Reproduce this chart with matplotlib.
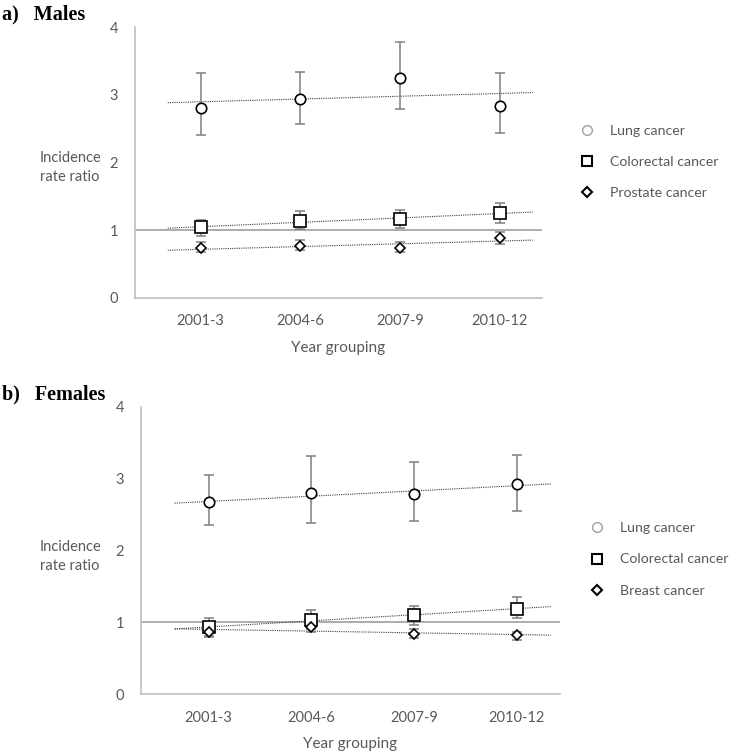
import numpy as np
import matplotlib
matplotlib.use("Agg")
import matplotlib.pyplot as plt
import matplotlib.transforms as mtransforms
from matplotlib.lines import Line2D

# ─── data ─────────────────────────────────────
years = ["2001-3", "2004-6", "2007-9", "2010-12"]

m_lung = [2.81, 2.93, 3.25, 2.84]
m_lung_lo = [2.40, 2.57, 2.79, 2.43]
m_lung_hi = [3.32, 3.33, 3.78, 3.32]
m_crc = [1.04, 1.14, 1.16, 1.25]
m_crc_lo = [0.92, 1.01, 1.03, 1.11]
m_crc_hi = [1.15, 1.28, 1.30, 1.40]
m_pros = [0.73, 0.77, 0.73, 0.88]
m_pros_lo = [0.67, 0.71, 0.68, 0.79]
m_pros_hi = [0.82, 0.85, 0.82, 0.97]

f_lung = [2.67, 2.80, 2.78, 2.92]
f_lung_lo = [2.35, 2.38, 2.41, 2.55]
f_lung_hi = [3.05, 3.31, 3.23, 3.33]
f_crc = [0.93, 1.03, 1.10, 1.19]
f_crc_lo = [0.81, 0.90, 0.96, 1.06]
f_crc_hi = [1.06, 1.17, 1.23, 1.35]
f_breast = [0.87, 0.93, 0.84, 0.82]
f_breast_lo = [0.79, 0.87, 0.78, 0.76]
f_breast_hi = [0.95, 0.98, 0.91, 0.87]

plt.rcParams['font.family'] = ['Lato', 'DejaVu Sans']
GREY_TXT = '#595959'

fig = plt.figure(figsize=(7.33, 7.52), dpi=100)


def panel(ax, series, labels, leg_xy):
    x = np.arange(1, len(years) + 1)
    ax.axhline(1, color='#a6a6a6', lw=1.3, zorder=1)
    xt = np.array([x[0] - 0.33, x[-1] + 0.33])
    for (y, lo, hi), mk, ms in zip(series, ['o', 's', 'D'], [7.5, 8, 5.5]):
        y, lo, hi = map(np.array, (y, lo, hi))
        b, a = np.polyfit(x, y, 1)
        ax.plot(xt, a + b * xt, ls=(0, (1, 1)), color='#404040', lw=0.8, zorder=2)
        ax.errorbar(x, y, yerr=[y - lo, hi - y], fmt='none', ecolor='#7f7f7f',
                    elinewidth=1.1, capsize=3.5, capthick=1.1, zorder=3)
        ax.plot(x, y, ls='none', marker=mk, ms=ms, mfc='white', mec='black',
                mew=1.2, zorder=4)
    ax.set_xlim(0.34, 4.42)
    ax.set_ylim(0, 4)
    ax.set_yticks([0, 1, 2, 3, 4])
    ax.set_xticks(x)
    ax.set_xticklabels(years)
    ax.tick_params(length=0, labelsize=10.5, colors=GREY_TXT, pad=12)
    ax.tick_params(axis='y', pad=12)
    for s in ['top', 'right']:
        ax.spines[s].set_visible(False)
    for s in ['left', 'bottom']:
        ax.spines[s].set_color('#bfbfbf')
        ax.spines[s].set_linewidth(1.2)
    ax.set_xlabel("Year grouping", fontsize=11, color=GREY_TXT, labelpad=9)
    trans = mtransforms.blended_transform_factory(fig.transFigure, ax.transData)
    ax.text(0.054, 1.92, "Incidence\nrate ratio", transform=trans,
            fontsize=10.5, color=GREY_TXT, va='center', ha='left', linespacing=1.45)
    handles = [
        Line2D([], [], ls='none', marker='o', ms=7, mfc='white', mec='#a0a0a0', mew=1),
        Line2D([], [], ls='none', marker='s', ms=7, mfc='white', mec='black', mew=1.5),
        Line2D([], [], ls='none', marker='D', ms=5, mfc='white', mec='black', mew=1.5),
    ]
    leg = fig.legend(handles, labels, loc='center left', bbox_to_anchor=leg_xy,
                     bbox_transform=fig.transFigure, frameon=False,
                     labelspacing=1.35, handletextpad=1.0, handlelength=1.2,
                     borderpad=0, borderaxespad=0, fontsize=10.2)
    for t in leg.get_texts():
        t.set_color(GREY_TXT)


ax1 = fig.add_axes([0.184, 0.604, 0.555, 0.36])
panel(ax1, [(m_lung, m_lung_lo, m_lung_hi), (m_crc, m_crc_lo, m_crc_hi),
            (m_pros, m_pros_lo, m_pros_hi)],
      ["Lung cancer", "Colorectal cancer", "Prostate cancer"], (0.789, 0.785))

ax2 = fig.add_axes([0.192, 0.077, 0.572, 0.382])
panel(ax2, [(f_lung, f_lung_lo, f_lung_hi), (f_crc, f_crc_lo, f_crc_hi),
            (f_breast, f_breast_lo, f_breast_hi)],
      ["Lung cancer", "Colorectal cancer", "Breast cancer"], (0.803, 0.256))

fig.text(0.003, 0.981, "a)   Males", fontsize=14.5, fontweight='bold',
         family='Liberation Serif', va='center')
fig.text(0.003, 0.476, "b)   Females", fontsize=14.5, fontweight='bold',
         family='Liberation Serif', va='center')

fig.savefig("out.png", dpi=100)
